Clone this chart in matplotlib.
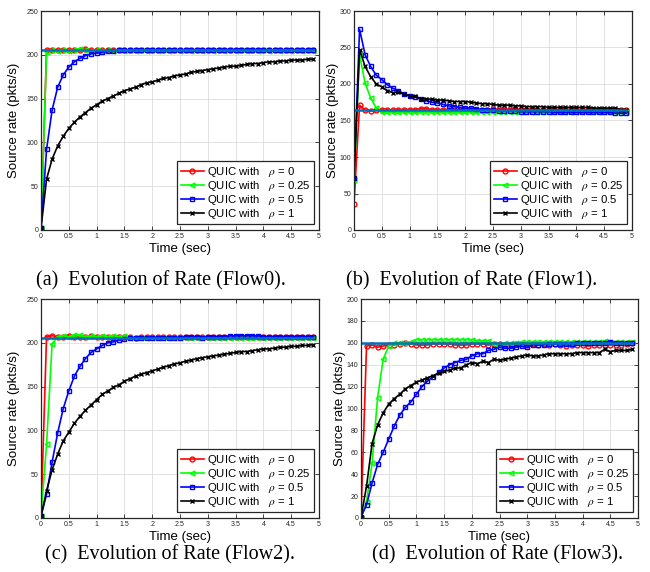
import matplotlib
matplotlib.use("Agg")
import matplotlib.pyplot as plt
from matplotlib.ticker import FixedLocator, FormatStrFormatter

plt.rcParams['font.family'] = ['Liberation Sans', 'DejaVu Sans']
plt.rcParams['mathtext.fontset'] = 'stix'

# time axis (sec)
t = [0.0, 0.1, 0.2, 0.3, 0.4, 0.5, 0.6, 0.7, 0.8, 0.9,
     1.0, 1.1, 1.2, 1.3, 1.4, 1.5, 1.6, 1.7, 1.8, 1.9,
     2.0, 2.1, 2.2, 2.3, 2.4, 2.5, 2.6, 2.7, 2.8, 2.9,
     3.0, 3.1, 3.2, 3.3, 3.4, 3.5, 3.6, 3.7, 3.8, 3.9,
     4.0, 4.1, 4.2, 4.3, 4.4, 4.5, 4.6, 4.7, 4.8, 4.9]

rho_labels = ['0', '0.25', '0.5', '1']

# Flow0
red0 = [2, 205, 206, 205, 206, 205, 206, 205, 207, 205, 206, 205, 206, 205, 205, 206, 205, 205, 206, 205,
        205, 206, 205, 205, 206, 205, 205, 206, 205, 205, 206, 205, 205, 206, 205, 205, 206, 205, 205, 206,
        205, 205, 206, 205, 205, 206, 205, 205, 206, 205]
green0 = [2, 203, 205, 204, 205, 204, 206, 207, 205, 204, 205, 204, 205, 204, 205, 204, 205, 204, 205, 204,
          205, 204, 205, 204, 205, 204, 205, 204, 205, 204, 205, 204, 205, 204, 205, 204, 205, 204, 205, 204,
          205, 204, 205, 204, 206, 204, 205, 204, 205, 204]
blue0 = [2, 92, 137, 163, 177, 186, 192, 196, 199, 201, 202, 203, 204, 204, 205, 205, 205, 205, 205, 205,
         205, 205, 205, 205, 205, 205, 205, 205, 205, 205, 205, 206, 206, 206, 206, 206, 206, 206, 206, 206,
         206, 205, 205, 205, 205, 205, 205, 205, 206, 206]
black0 = [2, 58, 81, 96, 107, 116, 123, 129, 134, 139, 143, 147, 150, 153, 156, 159, 161, 163, 166, 168,
          169, 171, 173, 174, 176, 177, 178, 180, 181, 182, 183, 184, 185, 186, 187, 187, 188, 189, 190, 190,
          191, 192, 192, 193, 193, 194, 194, 194, 195, 195]

# Flow1
red1 = [36, 171, 164, 163, 164, 165, 165, 164, 165, 165, 165, 165, 166, 166, 165, 165, 165, 165, 165, 165,
        165, 165, 165, 165, 165, 166, 165, 166, 165, 166, 165, 165, 166, 165, 165, 165, 165, 165, 165, 165,
        165, 165, 165, 165, 165, 165, 165, 165, 165, 164]
green1 = [69, 240, 201, 181, 167, 162, 161, 162, 161, 162, 161, 162, 161, 162, 161, 162, 161, 162, 161, 162,
          161, 162, 161, 161, 161, 161, 161, 161, 161, 161, 161, 161, 161, 161, 161, 161, 161, 161, 161, 161,
          161, 161, 161, 161, 161, 161, 161, 161, 161, 161]
blue1 = [71, 275, 240, 224, 212, 206, 199, 194, 191, 186, 183, 182, 179, 177, 175, 174, 172, 170, 169, 168,
         167, 167, 166, 165, 165, 164, 163, 163, 163, 163, 162, 162, 162, 162, 162, 162, 161, 161, 161, 161,
         161, 161, 161, 161, 161, 161, 161, 160, 160, 160]
black1 = [71, 247, 224, 210, 200, 196, 191, 188, 189, 186, 184, 183, 180, 180, 179, 178, 178, 177, 176, 176,
          176, 175, 174, 173, 173, 172, 171, 171, 171, 170, 170, 169, 169, 169, 169, 168, 168, 168, 168, 168,
          168, 168, 168, 167, 167, 167, 167, 167, 165, 165]

# Flow2
red2 = [2, 207, 208, 207, 207, 208, 207, 207, 207, 208, 207, 207, 207, 207, 207, 207, 207, 206, 207, 207,
        207, 207, 207, 207, 207, 207, 207, 207, 207, 207, 207, 207, 207, 207, 207, 207, 207, 207, 207, 207,
        207, 207, 207, 207, 207, 207, 207, 207, 207, 207]
green2 = [2, 84, 199, 207, 208, 207, 209, 209, 207, 208, 207, 208, 207, 208, 207, 208, 206, 206, 206, 206,
          206, 206, 206, 206, 206, 206, 206, 206, 206, 206, 206, 206, 206, 206, 206, 206, 206, 206, 206, 206,
          206, 206, 206, 206, 206, 206, 206, 206, 206, 206]
blue2 = [2, 27, 64, 97, 125, 145, 162, 173, 182, 189, 193, 197, 200, 201, 203, 204, 205, 206, 206, 206,
         206, 206, 206, 206, 206, 206, 207, 207, 207, 206, 207, 207, 207, 207, 208, 208, 208, 208, 208, 208,
         207, 207, 207, 207, 207, 207, 207, 207, 207, 207]
black2 = [2, 31, 55, 73, 88, 98, 108, 116, 123, 129, 135, 141, 145, 149, 152, 156, 159, 162, 164, 166,
          168, 170, 172, 174, 176, 177, 179, 180, 182, 183, 184, 185, 186, 187, 188, 189, 190, 190, 191, 192,
          193, 193, 194, 195, 195, 196, 196, 197, 197, 198]

# Flow3
red3 = [1, 157, 158, 156, 157, 158, 158, 159, 160, 159, 158, 158, 158, 159, 159, 159, 159, 158, 158, 158,
        159, 159, 159, 158, 159, 159, 158, 158, 159, 159, 158, 159, 158, 159, 158, 159, 158, 157, 158, 158,
        158, 157, 158, 158, 158, 158, 158, 158, 159, 160]
green3 = [0, 15, 50, 110, 145, 157, 160, 160, 160, 161, 163, 163, 163, 163, 163, 163, 163, 163, 163, 163,
          163, 162, 162, 162, 159, 158, 160, 160, 160, 161, 161, 161, 161, 161, 161, 161, 161, 161, 161, 161,
          161, 161, 161, 161, 162, 161, 161, 161, 161, 161]
blue3 = [1, 12, 32, 49, 60, 72, 84, 94, 101, 106, 113, 120, 125, 129, 133, 137, 140, 142, 144, 145,
         148, 150, 150, 153, 154, 156, 155, 155, 156, 157, 156, 158, 158, 158, 159, 159, 159, 159, 159, 160,
         160, 160, 160, 160, 160, 161, 160, 160, 160, 160]
black3 = [1, 29, 68, 85, 96, 104, 109, 113, 118, 121, 124, 126, 128, 130, 132, 134, 135, 137, 137, 140,
          142, 141, 143, 142, 145, 144, 145, 146, 147, 148, 149, 148, 148, 149, 150, 150, 150, 150, 150, 151,
          151, 151, 151, 151, 154, 152, 153, 153, 153, 154]

fair_rate = [205, 165, 205, 160]
y_max = [250, 300, 250, 200]
y_step = [50, 50, 50, 20]
captions = ['(a)  Evolution of Rate (Flow0).', '(b)  Evolution of Rate (Flow1).',
            '(c)  Evolution of Rate (Flow2).', '(d)  Evolution of Rate (Flow3).']
flows = [(red0, green0, blue0, black0), (red1, green1, blue1, black1),
         (red2, green2, blue2, black2), (red3, green3, blue3, black3)]

W, H = 650, 572
fig = plt.figure(figsize=(6.5, 5.72), dpi=100)

# axes boxes in pixels: left, right, top, bottom
boxes = [(41, 319, 11, 230), (354, 632, 11, 230), (41, 319, 299, 518), (361, 638, 299, 518)]
cap_pos = [(161, 281), (472, 281), (170, 555), (498, 555)]
ylab_x = [14, 333, 14, 340]

styles = [('red', 'o'), ('#00ff00', '<'), ('blue', 's'), ('black', 'x')]

for i, (l, r, top, bot) in enumerate(boxes):
    ax = fig.add_axes([l / W, 1 - bot / H, (r - l) / W, (bot - top) / H])
    for (c, m), ys, lab in zip(styles, flows[i], rho_labels):
        ax.plot(t, ys, color=c, marker=m, markersize=3.5, markerfacecolor='none',
                markeredgewidth=1.0, linewidth=1.2, label='QUIC with   $\\rho$ = ' + lab)
    ax.plot([t[0], t[-1]], [fair_rate[i], fair_rate[i]], color='#0072bd', linewidth=1.8)

    ax.set_xlim(0, 5)
    ax.set_ylim(0, y_max[i])
    ax.xaxis.set_major_locator(FixedLocator([0, 0.5, 1, 1.5, 2, 2.5, 3, 3.5, 4, 4.5, 5]))
    ax.yaxis.set_major_locator(FixedLocator(list(range(0, y_max[i] + 1, y_step[i]))))
    ax.xaxis.set_major_formatter(FormatStrFormatter('%g'))
    ax.grid(True, color='#dcdcdc', linewidth=0.6)
    ax.set_axisbelow(True)
    ax.tick_params(direction='in', length=3, width=0.6, labelsize=5, colors='#262626',
                   top=True, right=True, pad=2)
    for s in ax.spines.values():
        s.set_color('#262626')
        s.set_linewidth(0.9)

    ax.set_xlabel('Time (sec)', fontsize=9.5, labelpad=2)
    fig.text(ylab_x[i] / W, 1 - (top + bot) / 2 / H, 'Source rate (pkts/s)', fontsize=9.5,
             rotation=90, ha='center', va='center')

    leg = ax.legend(loc='lower right', bbox_to_anchor=(0.982, 0.027), borderaxespad=0,
                    fontsize=8.2, numpoints=1, handlelength=2.0, handletextpad=0.3,
                    labelspacing=0.0, borderpad=0.3, fancybox=False, framealpha=1)
    leg.get_frame().set_edgecolor('#262626')
    leg.get_frame().set_linewidth(0.9)

    fig.text(cap_pos[i][0] / W, 1 - cap_pos[i][1] / H, captions[i], fontsize=14.5,
             family='Liberation Serif', ha='center', va='center')

fig.savefig('out.png', dpi=100)
